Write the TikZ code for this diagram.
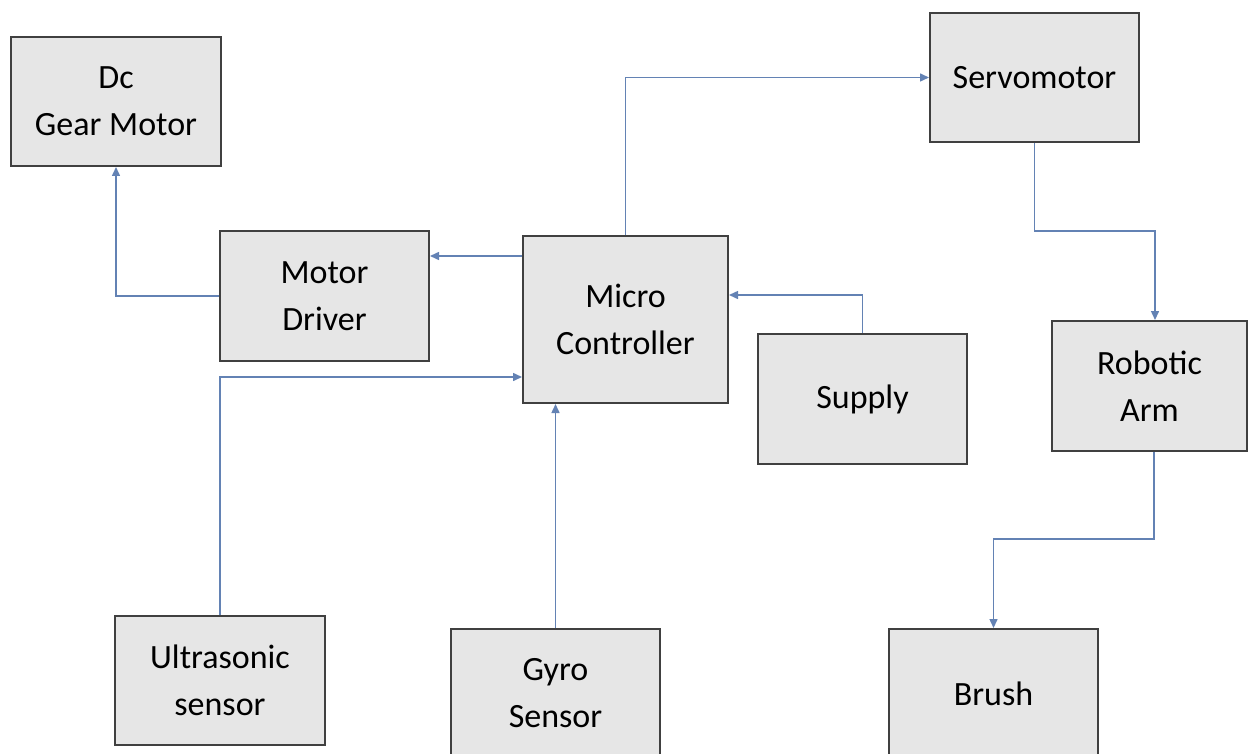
\documentclass[tikz,border=0pt]{standalone}
\usepackage{fontspec}
\setmainfont{Carlito}
\usetikzlibrary{arrows.meta}
\definecolor{boxfill}{HTML}{E6E6E6}
\definecolor{boxline}{HTML}{404040}
\definecolor{arrcol}{HTML}{6382B4}
\tikzset{
  blk/.style={draw=boxline, line width=2pt, fill=boxfill, align=center, inner sep=0pt,
    font=\fontsize{34}{47}\selectfont},
  arr/.style={draw=arrcol, line width=1.5pt, -{Triangle[length=9pt,width=8pt]}},
}
\begin{document}
\begin{tikzpicture}[x=1pt,y=-1pt]
\useasboundingbox (0,0) rectangle (1249,754);
\node[blk, minimum width=210pt, minimum height=129pt] (dc) at (116,101.5) {Dc\\Gear Motor};
\node[blk, minimum width=209pt, minimum height=130pt] (md) at (324.5,296) {Motor\\Driver};
\node[blk, minimum width=205pt, minimum height=167pt] (mc) at (625.5,319.5) {Micro\\Controller};
\node[blk, minimum width=209pt, minimum height=130pt] (sup) at (862.5,399) {Supply};
\node[blk, minimum width=209pt, minimum height=129pt] (servo) at (1034.5,77.5) {Servomotor};
\node[blk, minimum width=195pt, minimum height=130pt] (arm) at (1149.5,386) {Robotic\\Arm};
\node[blk, minimum width=210pt, minimum height=129pt] (us) at (220,680.5) {Ultrasonic\\sensor};
\node[blk, minimum width=209pt, minimum height=129pt] (gyro) at (555.5,693.5) {Gyro\\Sensor};
\node[blk, minimum width=209pt, minimum height=129pt] (brush) at (993.5,693.5) {Brush};
\coordinate (y256) at (0,256);
\coordinate (y295) at (0,295);
\coordinate (y377) at (0,377);
\coordinate (a1) at (1155,231);
\coordinate (a2) at (1154,539);
\draw[arr] (md.west) -| (dc.south);
\draw[arr] (mc.west |- y256) -- (md.east |- y256);
\draw[arr] (mc.north) |- (servo.west);
\draw[arr] (sup.north) |- (mc.east |- y295);
\draw[arr] (us.north) |- (mc.west |- y377);
\draw[arr] (gyro.north) -- (mc.south -| gyro.north);
\draw[arr] (servo.south) |- (a1) -- (a1 |- arm.north);
\draw[arr] (arm.south -| a2) -- (a2) -| (brush.north);
\end{tikzpicture}
\end{document}
